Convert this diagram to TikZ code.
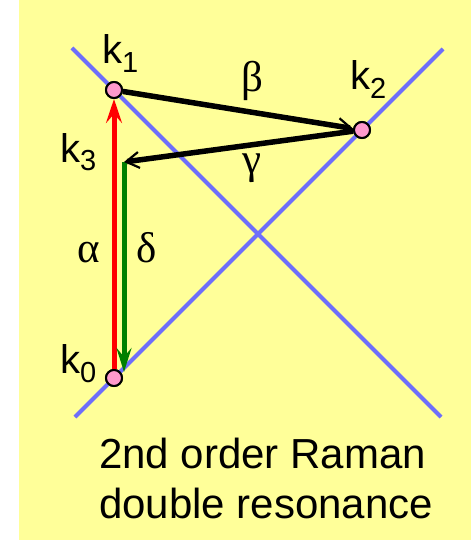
\documentclass[tikz,border=0pt]{standalone}
\usepackage{fontspec}
\setmainfont{Liberation Sans}
\newfontfamily\grkfont{Liberation Serif}
\usetikzlibrary{arrows.meta}
\definecolor{bgyellow}{RGB}{255,255,153}
\definecolor{lineblue}{RGB}{110,110,250}
\definecolor{dotpink}{RGB}{255,153,204}
\definecolor{arrred}{RGB}{255,0,0}
\definecolor{arrgreen}{RGB}{0,128,0}
\newcommand\klab[1]{k\raisebox{-9pt}{\fontsize{29}{30}\selectfont #1}}
\tikzset{
  bandline/.style={draw=lineblue, line width=4pt},
  dot/.style={circle, draw=black, line width=2pt, fill=dotpink, minimum size=16pt, inner sep=0pt},
  blackarr/.style={draw=black, line width=5.5pt, -{Straight Barb[length=13pt,width=16pt,line width=2.2pt]}},
  redarr/.style={draw=arrred, line width=5pt, -{Stealth[length=24pt,width=16pt,inset=9pt]}},
  greenarr/.style={draw=arrgreen, line width=5pt, -{Stealth[length=24pt,width=15pt,inset=9pt]}},
  klabel/.style={inner sep=0pt, anchor=base west, font=\fontsize{40}{48}\selectfont},
  glabel/.style={inner sep=0pt, anchor=base, font=\grkfont\fontsize{43}{48}\selectfont},
  caption/.style={inner sep=0pt, anchor=base west, font=\fontsize{42}{50}\selectfont}
}
\begin{document}
\begin{tikzpicture}[x=1pt,y=-1pt]
\useasboundingbox (0,0) rectangle (471,540);
\fill[white] (0,0) rectangle (471,540);
\fill[bgyellow] (19,0) rectangle (471,540);
% band lines
\coordinate (a1) at (72,48);
\coordinate (a2) at (441,417);
\coordinate (b1) at (75,417);
\coordinate (b2) at (443,49);
\draw[bandline] (a1) -- (a2);
\draw[bandline] (b1) -- (b2);
% states
\node[dot] (k1) at (114,90) {};
\node[dot] (k2) at (362,130) {};
\node[dot] (k0) at (114,378) {};
\coordinate (k3) at (124,162);
\coordinate (g0) at (124,372);
% arrows
\draw[redarr] (k0) -- (k1);
\draw[greenarr] (k3) -- (g0);
\draw[blackarr] (k1) -- (k2);
\draw[blackarr] (k2) -- (k3);
% redraw dots on top
\node[dot] at (k1) {};
\node[dot] at (k2) {};
\node[dot] at (k0) {};
% labels
\node[klabel] (lk1) at (102,64) {\klab{1}};
\node[klabel] (lk2) at (350,90) {\klab{2}};
\node[klabel] (lk3) at (60,162) {\klab{3}};
\node[klabel] (lk0) at (60,373) {\klab{0}};
\node[glabel] (lb) at (252,92) {β};
\node[glabel] (lg) at (252,174) {γ};
\node[glabel] (la) at (89,262) {α};
\node[glabel] (ld) at (147,262) {δ};
% caption
\node[caption] (t1) at (99,468) {2nd order Raman};
\node[caption] (t2) at (99,518) {double resonance};
\end{tikzpicture}
\end{document}
